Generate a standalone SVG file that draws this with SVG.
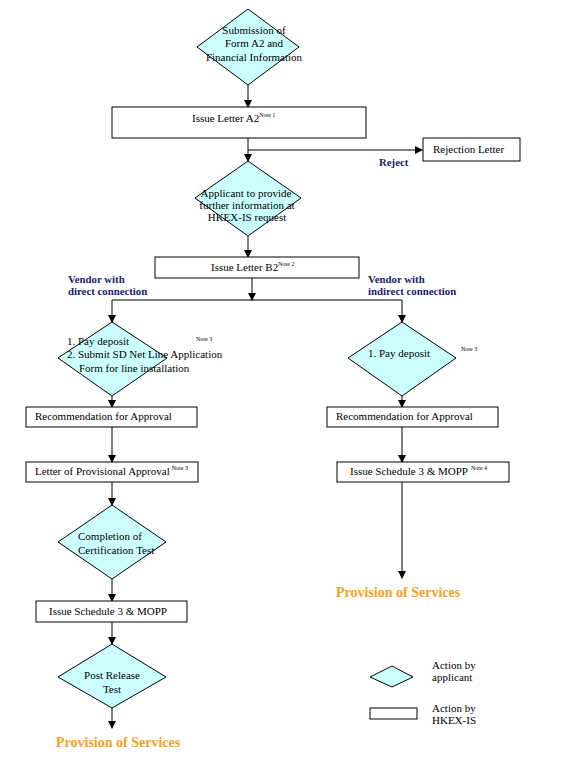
<svg xmlns="http://www.w3.org/2000/svg" width="562" height="760" viewBox="0 0 562 760">
<defs>
<marker id="arr" markerWidth="8" markerHeight="8" refX="7" refY="4" orient="auto" markerUnits="userSpaceOnUse">
<path d="M0,0 L8,4 L0,8 z" fill="#000"/>
</marker>
<style>
.dia{fill:#ccffff;stroke:#000;stroke-width:1}
.box{fill:#fff;stroke:#000;stroke-width:1}
.t{font-family:"Liberation Serif","Times New Roman",serif;font-size:11px;fill:#000}
.n{font-family:"Liberation Serif","Times New Roman",serif;font-size:6px;fill:#000}
.lbl{font-family:"Liberation Serif","Times New Roman",serif;font-size:10.8px;font-weight:bold;fill:#1a1a6e}
.prov{font-family:"Liberation Serif","Times New Roman",serif;font-size:14px;font-weight:bold;fill:#f5a020}
.c{fill:none;stroke:#000;stroke-width:1}
</style>
</defs>
<rect width="562" height="760" fill="#fff"/>

<g id="connectors">
<line class="c" x1="248" y1="85" x2="248" y2="107" marker-end="url(#arr)"/>
<line class="c" x1="248" y1="138" x2="248" y2="161" marker-end="url(#arr)"/>
<line class="c" x1="248" y1="150" x2="422" y2="150" marker-end="url(#arr)"/>
<line class="c" x1="248" y1="236" x2="248" y2="257" marker-end="url(#arr)"/>
<line class="c" x1="252" y1="278" x2="252" y2="300" marker-end="url(#arr)"/>
<line class="c" x1="112" y1="300" x2="402" y2="300"/>
<line class="c" x1="112" y1="300" x2="112" y2="322" marker-end="url(#arr)"/>
<line class="c" x1="402" y1="300" x2="402" y2="322" marker-end="url(#arr)"/>
<line class="c" x1="112" y1="396" x2="112" y2="407" marker-end="url(#arr)"/>
<line class="c" x1="402" y1="396" x2="402" y2="407" marker-end="url(#arr)"/>
<line class="c" x1="112" y1="427" x2="112" y2="462" marker-end="url(#arr)"/>
<line class="c" x1="402" y1="427" x2="402" y2="462" marker-end="url(#arr)"/>
<line class="c" x1="112" y1="482" x2="112" y2="505" marker-end="url(#arr)"/>
<line class="c" x1="402" y1="482" x2="402" y2="578" marker-end="url(#arr)"/>
<line class="c" x1="112" y1="579" x2="112" y2="601" marker-end="url(#arr)"/>
<line class="c" x1="112" y1="622" x2="112" y2="644" marker-end="url(#arr)"/>
<line class="c" x1="112" y1="708" x2="112" y2="728" marker-end="url(#arr)"/>
</g>

<g id="n-submission">
<polygon class="dia" points="248,9 299,47 248,85 197,47"/>
<text class="t" x="254" y="34" text-anchor="middle">Submission of</text>
<text class="t" x="254" y="47" text-anchor="middle">Form A2 and</text>
<text class="t" x="254" y="61" text-anchor="middle">Financial Information</text>
</g>

<g id="n-letterA2">
<rect class="box" x="112" y="107" width="254" height="31"/>
<text class="t" x="192" y="122">Issue Letter A2<tspan class="n" dy="-5">Note 1</tspan></text>
</g>

<g id="n-rejection">
<rect class="box" x="423" y="138" width="97" height="23"/>
<text class="t" x="433" y="153">Rejection Letter</text>
</g>
<text id="l-reject" class="lbl" x="379" y="166">Reject</text>

<g id="n-further">
<polygon class="dia" points="248,161 301,198 248,236 195,198"/>
<text class="t" x="246" y="197" text-anchor="middle">Applicant to provide</text>
<text class="t" x="247" y="209" text-anchor="middle">further information at</text>
<text class="t" x="247" y="221" text-anchor="middle">HKEX-IS request</text>
</g>

<g id="n-letterB2">
<rect class="box" x="155" y="257" width="204" height="21"/>
<text class="t" x="211" y="271">Issue Letter B2<tspan class="n" dy="-5">Note 2</tspan></text>
</g>

<g id="labels">
<text class="lbl" x="68" y="283">Vendor with</text>
<text class="lbl" x="68" y="295">direct connection</text>
<text class="lbl" x="368" y="283">Vendor with</text>
<text class="lbl" x="368" y="295">indirect connection</text>
</g>

<g id="n-deposit-direct">
<polygon class="dia" points="112,322 167,358 112,396 58,358"/>
<text class="t" x="67" y="345">1. Pay deposit</text>
<text class="t" x="67" y="358">2. Submit SD Net Line Application</text>
<text class="t" x="79" y="372">Form for line installation</text>
<text class="n" x="196" y="341">Note 3</text>
</g>

<g id="n-deposit-indirect">
<polygon class="dia" points="402,322 456,358 402,396 348,358"/>
<text class="t" x="368" y="357">1. Pay deposit</text>
<text class="n" x="461" y="351">Note 3</text>
</g>

<g id="n-rec-left">
<rect class="box" x="26" y="407" width="171" height="20"/>
<text class="t" x="35" y="420">Recommendation for Approval</text>
</g>

<g id="n-rec-right">
<rect class="box" x="327" y="407" width="171" height="20"/>
<text class="t" x="336" y="420">Recommendation for Approval</text>
</g>

<g id="n-provisional">
<rect class="box" x="26" y="462" width="172" height="20"/>
<text class="t" x="35" y="475">Letter of Provisional Approval<tspan class="n" dx="2" dy="-5">Note 3</tspan></text>
</g>

<g id="n-schedule-right">
<rect class="box" x="337" y="462" width="172" height="20"/>
<text class="t" x="350" y="475">Issue Schedule 3 &amp; MOPP<tspan class="n" dx="3" dy="-5">Note 4</tspan></text>
</g>

<g id="n-cert">
<polygon class="dia" points="112,505 166,542 112,579 58,542"/>
<text class="t" x="78" y="540">Completion of</text>
<text class="t" x="78" y="554">Certification Test</text>
</g>

<g id="n-schedule-left">
<rect class="box" x="36" y="601" width="151" height="21"/>
<text class="t" x="49" y="615">Issue Schedule 3 &amp; MOPP</text>
</g>

<g id="n-postrelease">
<polygon class="dia" points="112,644 166,677 112,708 58,677"/>
<text class="t" x="112" y="679" text-anchor="middle">Post Release</text>
<text class="t" x="112" y="693" text-anchor="middle">Test</text>
</g>

<text id="n-prov-left" class="prov" x="56" y="747">Provision  of Services</text>
<text id="n-prov-right" class="prov" x="336" y="597">Provision  of Services</text>

<g id="legend">
<polygon class="dia" points="392,666 413,677 392,687 370,677"/>
<rect class="box" x="370" y="708" width="47" height="11"/>
<text class="t" x="432" y="669">Action by</text>
<text class="t" x="432" y="681">applicant</text>
<text class="t" x="432" y="712">Action by</text>
<text class="t" x="432" y="724">HKEX-IS</text>
</g>
</svg>
